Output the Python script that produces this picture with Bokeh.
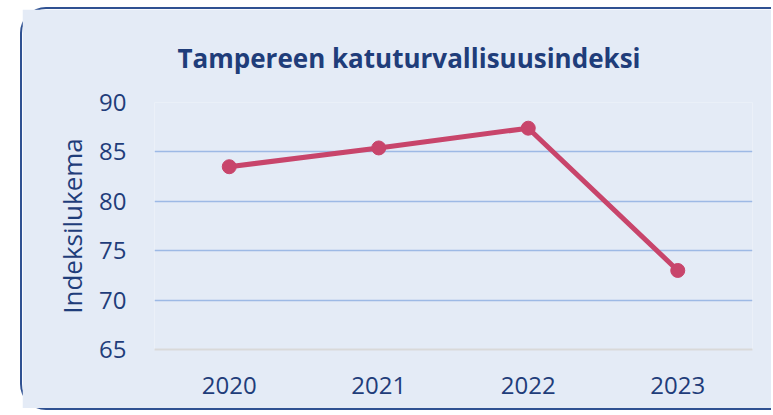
from bokeh.plotting import figure
from bokeh.embed import file_html
from bokeh.resources import INLINE
from bokeh.models import Title, FixedTicker

years = ["2020", "2021", "2022", "2023"]
values = [83.5, 85.4, 87.4, 73.0]
y_ticks = [65, 70, 75, 80, 85, 90]
title_text = "Tampereen katuturvallisuusindeksi"

BG = "#E4EBF6"
NAVY = "#1F3D7A"
LINE = "#C8456B"
GRID = "#9DB9E5"
BORDER = "#2F5192"

p = figure(x_range=years, y_range=(65, 90), width=751, height=403,
           output_backend="svg", toolbar_location=None,
           min_border_left=132, min_border_right=21, min_border_top=93, min_border_bottom=63)
p.background_fill_color = BG
p.border_fill_color = BG
p.outline_line_color = None
p.styles = {"border-style": "solid none solid solid", "border-color": BORDER,
            "border-width": "2px 0px 2px 2px",
            "border-radius": "26px 0px 0px 26px",
            "margin-left": "20px", "margin-top": "7px"}

t = Title(text=title_text, align="left", offset=23,
          text_font="Open Sans", text_font_style="bold", text_font_size="26px",
          text_color=NAVY, standoff=54)
p.add_layout(t, "above")

p.line(years, values, line_color=LINE, line_width=5)
p.scatter(years, values, size=14, fill_color=LINE, line_color=LINE)

p.xgrid.grid_line_color = None
p.ygrid.grid_line_color = GRID
p.ygrid.grid_line_width = 1.5
p.yaxis.ticker = FixedTicker(ticks=y_ticks)

for ax in (p.xaxis, p.yaxis):
    ax.major_tick_line_color = None
    ax.minor_tick_line_color = None
    ax.major_label_text_font = "Open Sans"
    ax.major_label_text_font_size = "24px"
    ax.major_label_text_color = NAVY
p.yaxis.axis_line_color = None
p.yaxis.major_label_standoff = 22
p.xaxis.axis_line_color = "#D9D9D9"
p.xaxis.axis_line_width = 2
p.xaxis.major_label_standoff = 21
p.yaxis.axis_label = "Indeksilukema"
p.yaxis.axis_label_text_font = "Open Sans"
p.yaxis.axis_label_text_font_style = "normal"
p.yaxis.axis_label_text_font_size = "26px"
p.yaxis.axis_label_text_color = NAVY
p.yaxis.axis_label_standoff = 6

html = file_html(p, INLINE)
html = html.replace("<body>", f'<body style="background:{BG};">', 1)
open("out.html", "w").write(html)
